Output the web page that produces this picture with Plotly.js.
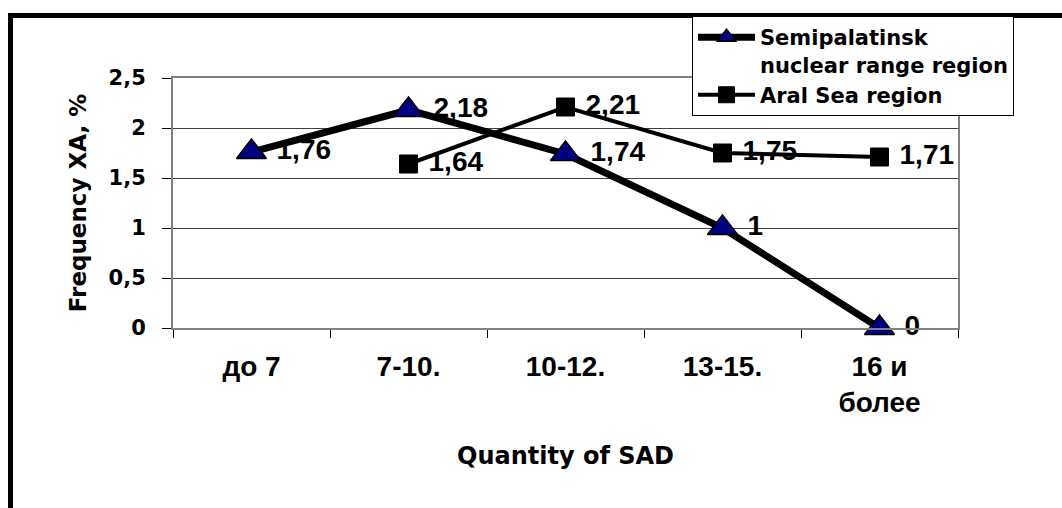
<!DOCTYPE html>
<html>
<head>
<meta charset="utf-8">
<script src="https://cdn.plot.ly/plotly-3.0.1.min.js"></script>
<style>html,body{margin:0;padding:0;background:#fff;}#chart{width:1062px;height:508px;}</style>
</head>
<body>
<div id="chart"></div>
<script>
const categories = ["до 7", "7-10.", "10-12.", "13-15.", "16 и<br>более"];
const semipalatinsk = [1.76, 2.18, 1.74, 1, 0];
const aral = [null, 1.64, 2.21, 1.75, 1.71];
const yTickVals = [0, 0.5, 1, 1.5, 2, 2.5];
const yTickText = ["0", "0,5", "1", "1,5", "2", "2,5"];
const seriesNames = ["Semipalatinsk<br>nuclear range region", "Aral Sea region"];

const fmt = v => (v === null ? "" : "\u00A0" + String(v).replace(".", ","));
const LIB = "Liberation Sans, Arial, sans-serif";
const DJV = "DejaVu Sans, Verdana, sans-serif";

const traces = [
  {
    x: categories, y: semipalatinsk, name: seriesNames[0],
    type: "scatter", mode: "lines+markers+text",
    line: {color: "#000", width: 7},
    marker: {symbol: "triangle-up", size: 26, color: "#000080", line: {color: "#000", width: 1.5}},
    text: semipalatinsk.map(fmt), textposition: "middle right",
    textfont: {family: LIB, size: 28, color: "#000", weight: "bold"},
    cliponaxis: false
  },
  {
    x: categories, y: aral, name: seriesNames[1],
    type: "scatter", mode: "lines+markers+text",
    line: {color: "#000", width: 4},
    marker: {symbol: "square", size: 18, color: "#000", line: {color: "#000", width: 1}},
    text: aral.map(fmt), textposition: "middle right",
    textfont: {family: LIB, size: 28, color: "#000", weight: "bold"},
    cliponaxis: false, connectgaps: false
  }
];

// plot area: x 173..958, y 78..328
const L = 173, R = 958, T = 78, B = 328;
const px = v => (v - L) / (R - L);
const py = v => (B - v) / (B - T);

const layout = {
  width: 1062, height: 508, autosize: false,
  margin: {l: L, r: 1062 - R, t: T, b: 508 - B, pad: 0},
  paper_bgcolor: "#fff", plot_bgcolor: "#fff",
  font: {family: LIB, size: 20, color: "#000", weight: "bold"},
  showlegend: true,
  legend: {
    x: px(692), y: py(16), xanchor: "left", yanchor: "top",
    bgcolor: "#fff", bordercolor: "#000", borderwidth: 1,
    font: {family: DJV, size: 21, color: "#000", weight: "bold"},
    itemwidth: 57, valign: "top", tracegroupgap: 0
  },
  xaxis: {
    type: "category", range: [-0.5, 4.5],
    showline: true, linecolor: "#808080", linewidth: 2, mirror: true,
    ticks: "outside", ticklen: 8, tickcolor: "#000", tickwidth: 1,
    tickson: "boundaries", showgrid: false, zeroline: false,
    ticklabelstandoff: 12,
    tickfont: {family: LIB, size: 28, color: "#000", weight: "bold"},
    title: {text: "Quantity of SAD", standoff: 30, font: {family: DJV, size: 24, color: "#000", weight: "bold"}}
  },
  yaxis: {
    range: [0, 2.5], tickvals: yTickVals, ticktext: yTickText,
    showline: true, linecolor: "#808080", linewidth: 2, mirror: true,
    ticks: "outside", ticklen: 9, tickcolor: "#000", tickwidth: 1,
    showgrid: true, gridcolor: "#404040", gridwidth: 1, zeroline: false,
    ticklabelstandoff: 12,
    tickfont: {family: DJV, size: 21, color: "#000", weight: "bold"},
    title: {text: "Frequency XA, %", standoff: 16, font: {family: DJV, size: 23, color: "#000", weight: "bold"}}
  },
  shapes: [
    {type: "line", xref: "paper", yref: "paper", x0: px(10.5), x1: px(1070), y0: py(15.5), y1: py(15.5), line: {color: "#000", width: 5}, layer: "below"},
    {type: "line", xref: "paper", yref: "paper", x0: px(10.5), x1: px(10.5), y0: py(13), y1: py(520), line: {color: "#000", width: 5}, layer: "below"}
  ]
};

Plotly.newPlot("chart", traces, layout, {displayModeBar: false, staticPlot: true});
</script>
</body>
</html>
